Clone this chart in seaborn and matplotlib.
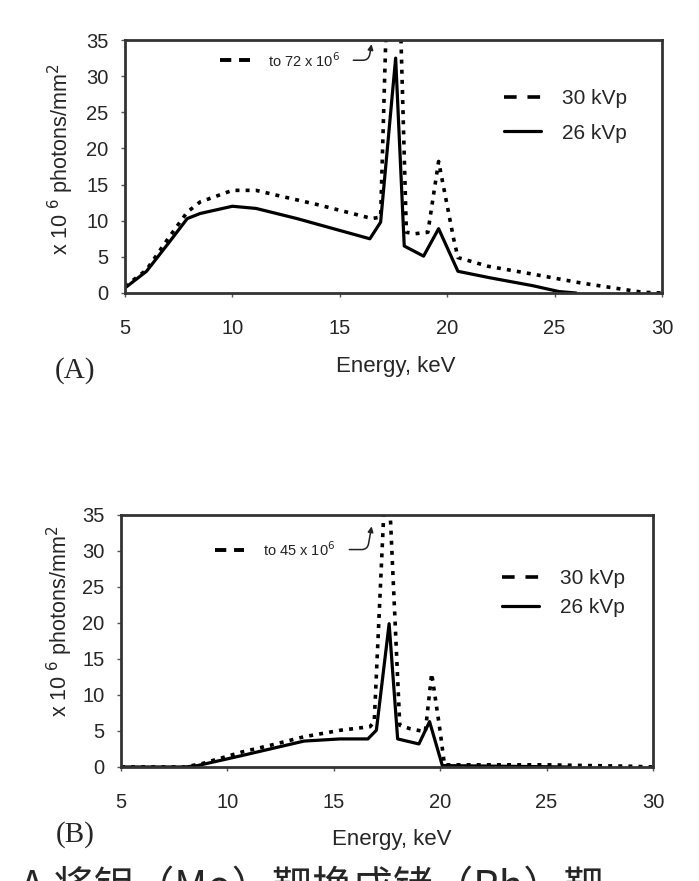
import matplotlib
matplotlib.use("Agg")
import matplotlib.pyplot as plt
import seaborn as sns
import pandas as pd
from matplotlib.lines import Line2D

# panel A - Mo target
energy_30_a = [5, 6, 7, 7.9, 8.5, 10.0, 11.1, 12.1, 14, 16.5, 16.9, 17.5, 18.1, 18.5, 19.1, 19.6, 20.3, 20.5, 21.9, 24, 26.2, 29.1, 30]
flux_30_a = [0.9, 3.2, 7.5, 11.2, 12.6, 14.2, 14.2, 13.5, 12.2, 10.3, 10.5, 72, 8.4, 8.2, 8.4, 18.2, 7.5, 4.9, 3.7, 2.6, 1.4, 0.1, 0]
energy_26_a = [5, 6, 7, 7.9, 8.5, 10.0, 11.1, 13, 16.4, 16.9, 17.6, 18.0, 18.9, 19.6, 20.5, 22, 24, 25.2, 26]
flux_26_a = [0.7, 3.0, 6.8, 10.3, 11.0, 12.0, 11.7, 10.3, 7.5, 9.8, 32.5, 6.5, 5.1, 8.9, 3.0, 2.1, 1.0, 0.2, 0]

# panel B - Rh target
energy_30_b = [5, 8, 8.85, 10.7, 12.0, 13.6, 15.3, 16.7, 16.9, 17.5, 18.1, 18.6, 19.3, 19.6, 20.0, 20.2, 25, 29, 30]
flux_30_b = [0, 0, 0.5, 2.1, 3.0, 4.2, 5.1, 5.6, 6.3, 45, 5.8, 5.3, 4.9, 13, 4.9, 0.3, 0.3, 0.1, 0]
energy_26_b = [5, 8, 8.6, 10.7, 12.0, 13.6, 15.3, 16.6, 17.0, 17.6, 18.0, 19.0, 19.5, 20.1, 26]
flux_26_b = [0, 0, 0.2, 1.6, 2.5, 3.6, 3.9, 3.9, 5.1, 19.9, 3.9, 3.2, 6.3, 0.2, 0]

series_labels = ["30 kVp", "26 kVp"]
peak_notes = ["to 72 x 10$^6$", "to 45 x 10$^6$"]
panel_tags = ["(A)", "(B)"]
caption = "A 将钼（Mo）靶换成铑（Rh）靶"

sns.set_style("white")
plt.rcParams["font.family"] = ["Liberation Sans", "DejaVu Sans"]

fig = plt.figure(figsize=(6.99, 8.81), dpi=100)
W, H = 699, 881


def px_axes(l, r, t, b):
    return fig.add_axes([l / W, 1 - b / H, (r - l) / W, (b - t) / H])


ax_a = px_axes(125, 662, 40, 293)
ax_b = px_axes(121, 653, 515, 767)

dot_style = (0, (1.1, 1.7))
panels = [
    (ax_a, energy_30_a, flux_30_a, energy_26_a, flux_26_a),
    (ax_b, energy_30_b, flux_30_b, energy_26_b, flux_26_b),
]

for i, (ax, e30, f30, e26, f26) in enumerate(panels):
    d30 = pd.DataFrame({"Energy": e30, "Flux": f30})
    d26 = pd.DataFrame({"Energy": e26, "Flux": f26})
    sns.lineplot(data=d30, x="Energy", y="Flux", ax=ax, color="black",
                 lw=2.6, linestyle=dot_style, estimator=None)
    sns.lineplot(data=d26, x="Energy", y="Flux", ax=ax, color="black",
                 lw=2.3, estimator=None)
    ax.set_xlim(5, 30)
    ax.set_ylim(0, 35)
    ax.set_xticks([5, 10, 15, 20, 25, 30])
    ax.set_yticks(range(0, 36, 5))
    ax.tick_params(axis="both", labelsize=14.5, length=3, width=1, color="#555555",
                   direction="out", left=True, bottom=True)
    ax.tick_params(axis="x", pad=16)
    ax.tick_params(axis="y", pad=9)
    for s in ax.spines.values():
        s.set_color("#333333")
        s.set_linewidth(2)

    ax.set_xlabel("Energy, keV", fontsize=16)
    ax.set_ylabel("x 10 $^{6}$ photons/mm$^{2}$", fontsize=15.5)

    handles = [Line2D([], [], color="black", lw=2.6, linestyle=(0, (3.5, 3))),
               Line2D([], [], color="black", lw=2.3)]
    ax.legend(handles, series_labels, frameon=False, fontsize=15,
              loc="upper left", handlelength=1.8, handletextpad=1.0,
              labelspacing=0.75 if i == 0 else 0.5,
              bbox_to_anchor=(0.67, 0.88) if i == 0 else (0.68, 0.86))

ax_a.xaxis.set_label_coords(0.505, -0.25)
ax_b.xaxis.set_label_coords(0.509, -0.245)
ax_a.yaxis.set_label_coords(-0.092, 0.53)
ax_b.yaxis.set_label_coords(-0.086, 0.58)

# peak annotations
notes_pos = [(ax_a, 32.2, 34.8, 15.5, 16.5), (ax_b, 30.2, 33.8, 15.6, 16.8)]
for (ax, ty, tipy, sx, tipx), note in zip(notes_pos, peak_notes):
    key = Line2D([9.4, 10.8], [ty, ty], color="black", lw=2.8,
                 linestyle=(0, (2.9, 2.0)))
    ax.add_line(key)
    ax.text(11.65, ty, note, fontsize=10.5, va="center", ha="left", color="#222222")
    ax.annotate("", xy=(tipx, tipy), xytext=(sx, ty),
                arrowprops=dict(arrowstyle="-|>", color="#222222", lw=1.1,
                                mutation_scale=8,
                                connectionstyle="angle,angleA=0,angleB=80,rad=6"))

fig.text(75 / W, 1 - 371 / H, panel_tags[0], fontsize=21, ha="center", va="center",
         family="Liberation Serif")
fig.text(75 / W, 1 - 835 / H, panel_tags[1], fontsize=21, ha="center", va="center",
         family="Liberation Serif")

fig.text(20 / W, 1 - 900 / H, caption, fontsize=29, ha="left", va="baseline",
         family=["Noto Sans CJK SC", "DejaVu Sans"])

fig.savefig("out.png", dpi=100)
